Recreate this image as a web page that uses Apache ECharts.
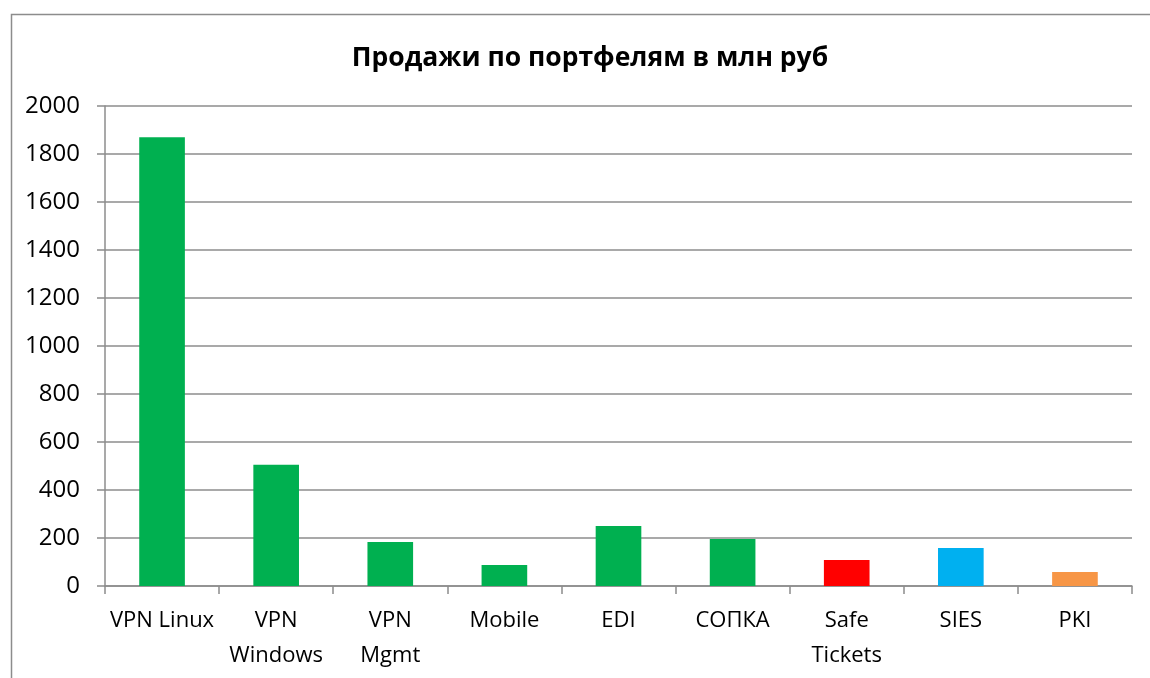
<!DOCTYPE html>
<html><head><meta charset="utf-8">
<script src="https://cdn.jsdelivr.net/npm/echarts@6/dist/echarts.min.js"></script>
<style>html,body{margin:0;padding:0;background:#fff}#c{width:1150px;height:678px}</style>
</head><body><div id="c"></div>
<script>
const categories = ['VPN Linux','VPN\nWindows','VPN\nMgmt','Mobile','EDI','СОПКА','Safe\nTickets','SIES','PKI'];
const values = [1870, 505, 183, 88, 250, 196, 108, 158, 58];
const barColors = ['#00B050','#00B050','#00B050','#00B050','#00B050','#00B050','#FF0000','#00B0F0','#F79646'];
const yTicks = {min: 0, max: 2000, interval: 200};
const titleText = 'Продажи по портфелям в млн руб';

const font = '"Open Sans", sans-serif';
const chart = echarts.init(document.getElementById('c'));
chart.setOption({
  animation: false,
  backgroundColor: '#fff',
  graphic: [{type:'rect', left: 9, top: 12, shape:{width: 1160, height: 700}, style:{fill:'none', stroke:'#8c8c8c', lineWidth: 1.5}, silent:true}],
  title: {text: titleText, left: 585, textAlign: 'center', top: 40, textStyle:{fontFamily: font, fontSize: 26.5, fontWeight:'bold', color:'#000'}},
  grid: {left: 105, right: 18, top: 106, bottom: 92},
  xAxis: {type:'category', data: categories,
    axisLine:{lineStyle:{color:'#8c8c8c', width:1.5}},
    axisTick:{show:true, alignWithLabel:false, length:8, lineStyle:{color:'#8c8c8c', width:1.5}},
    axisLabel:{fontFamily: font, fontSize: 22, color:'#000', margin: 17, lineHeight: 35, interval:0}
  },
  yAxis: {type:'value', min: yTicks.min, max: yTicks.max, interval: yTicks.interval,
    axisLine:{show:true, lineStyle:{color:'#8c8c8c', width:1.5}},
    axisTick:{show:true, length:8, lineStyle:{color:'#8c8c8c', width:1.5}},
    splitLine:{lineStyle:{color:'#8c8c8c', width:1.5}},
    axisLabel:{fontFamily: font, fontSize: 24, color:'#000', margin: 25, formatter: v => String(v)}
  },
  series: [{type:'bar', barWidth: '40%',
    data: values.map((v,i)=>({value:v, itemStyle:{color: barColors[i]}}))
  }]
});
</script></body></html>
